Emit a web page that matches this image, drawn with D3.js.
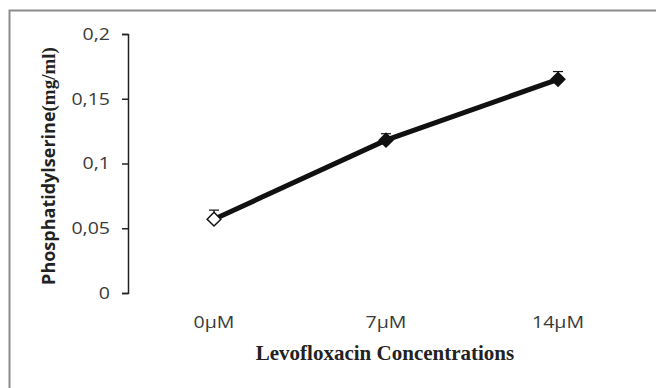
<!DOCTYPE html>
<html>
<head>
<meta charset="utf-8">
<script src="https://cdn.jsdelivr.net/npm/d3@7"></script>
<style>
  body { margin: 0; background: #fff; }
  svg { display: block; }
</style>
</head>
<body>
<svg id="chart" width="656" height="388"></svg>
<script>
// data
var concentrations = ["0µM", "7µM", "14µM"];
var psValues = [0.057, 0.118, 0.165];
var psErrors = [0.007, 0.005, 0.006];
var yTicks = [0, 0.05, 0.1, 0.15, 0.2];

var svg = d3.select("#chart"),
  width = 656,
  height = 388;

// the original text looks a bit stretched sideways
var stretch = 1.15;
var sans = "'Open Sans', 'Noto Sans', sans-serif";

// outer frame of the chart area (runs off the right and bottom edge)
svg.append("rect")
  .attr("x", 9.5).attr("y", 10.5)
  .attr("width", 700).attr("height", 400)
  .attr("fill", "none")
  .attr("stroke", "#8c8c8c")
  .attr("stroke-width", 2);

var x = d3.scaleBand()
  .domain(concentrations)
  .range([128, 644]);

var y = d3.scaleLinear()
  .domain([0, 0.2])
  .range([293, 34]);

var fmt = function(d) { return String(d).replace(".", ","); };

// y axis
var yAxis = svg.append("g")
  .attr("transform", "translate(128,0)")
  .call(d3.axisLeft(y).tickValues(yTicks).tickFormat(fmt).tickSize(6).tickPadding(12));
yAxis.select(".domain").attr("stroke", "#222").attr("stroke-width", 1.5).attr("d", "M-6,293.5H0.5V34.5H-6");
yAxis.selectAll(".tick line").attr("stroke", "#222").attr("stroke-width", 1.5);
yAxis.selectAll(".tick text")
  .attr("x", 0)
  .attr("transform", "translate(-18,0) scale(" + stretch + ",1)")
  .attr("fill", "#3a3a3a")
  .style("font-family", sans)
  .style("font-size", "17px");

// x tick labels (no axis line drawn)
svg.append("g")
  .selectAll("text")
  .data(concentrations)
  .enter()
  .append("text")
    .attr("transform", function(d) {
      return "translate(" + (x(d) + x.bandwidth() / 2) + ",328) scale(" + stretch + ",1)";
    })
    .attr("text-anchor", "middle")
    .attr("fill", "#3a3a3a")
    .style("font-family", sans)
    .style("font-size", "17px")
    .text(function(d) { return d; });

// axis titles
svg.append("text")
  .attr("x", 385).attr("y", 360)
  .attr("text-anchor", "middle")
  .attr("fill", "#222")
  .style("font-family", "'Liberation Serif', serif")
  .style("font-weight", "bold")
  .style("font-size", "21px")
  .text("Levofloxacin Concentrations");

var yTitle = svg.append("text")
  .attr("transform", "translate(55,166) rotate(-90)")
  .attr("text-anchor", "middle")
  .attr("fill", "#222")
  .style("font-weight", "bold");
yTitle.append("tspan")
  .style("font-family", sans)
  .style("font-size", "18px")
  .text("Phosphatidylserine");
yTitle.append("tspan")
  .style("font-family", "'Liberation Serif', serif")
  .style("font-size", "19px")
  .text("(mg/ml)");

var cx = function(i) { return x(concentrations[i]) + x.bandwidth() / 2; };

// error bars (upper part only visible)
var err = svg.append("g")
  .selectAll("g")
  .data(psValues)
  .enter()
  .append("g");
err.append("line")
  .attr("x1", function(d, i) { return cx(i); })
  .attr("x2", function(d, i) { return cx(i); })
  .attr("y1", function(d) { return y(d); })
  .attr("y2", function(d, i) { return y(d + psErrors[i]); })
  .attr("stroke", "#111").attr("stroke-width", 1.2);
err.append("line")
  .attr("x1", function(d, i) { return cx(i) - 5; })
  .attr("x2", function(d, i) { return cx(i) + 5; })
  .attr("y1", function(d, i) { return y(d + psErrors[i]); })
  .attr("y2", function(d, i) { return y(d + psErrors[i]); })
  .attr("stroke", "#111").attr("stroke-width", 1.2);

// line
var line = d3.line()
  .x(function(d, i) { return cx(i); })
  .y(function(d) { return y(d); });

svg.append("path")
  .datum(psValues)
  .attr("d", line)
  .attr("fill", "none")
  .attr("stroke", "#111")
  .attr("stroke-width", 5);

// markers: hollow diamond for control, filled for the rest
svg.append("g")
  .selectAll("path")
  .data(psValues)
  .enter()
  .append("path")
    .attr("transform", function(d, i) { return "translate(" + cx(i) + "," + y(d) + ")"; })
    .attr("d", d3.symbol().type(d3.symbolDiamond2).size(120))
    .attr("fill", function(d, i) { return i === 0 ? "#fff" : "#111"; })
    .attr("stroke", "#111")
    .attr("stroke-width", 1.5);
</script>
</body>
</html>
